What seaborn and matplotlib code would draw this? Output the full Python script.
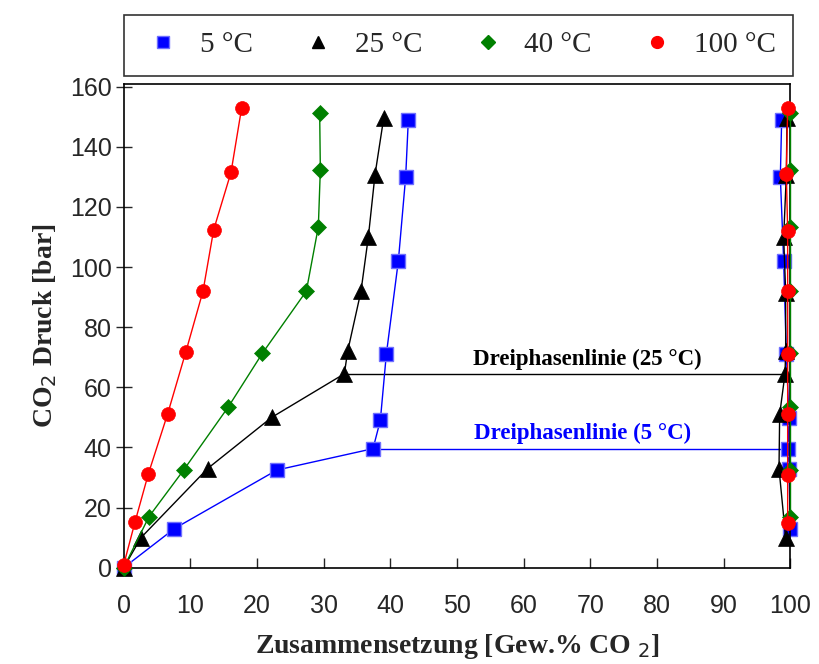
import numpy as np
import pandas as pd
import matplotlib
matplotlib.use("Agg")
import matplotlib.pyplot as plt
from matplotlib.lines import Line2D
import seaborn as sns

# liquid branch (left) and gas branch (right) per temperature
x5_liq = [0, 7.6, 23.0, 37.4, 38.5, 39.4, 41.2, 42.3, 42.7]
p5_liq = [0, 13, 32.5, 39.6, 49, 71, 102, 130, 149]
x5_gas = [100.0, 99.8, 99.7, 99.8, 99.4, 99.0, 98.5, 98.7]
p5_gas = [13, 32.7, 39.6, 49.7, 71, 102, 130, 149]

x25_liq = [0, 2.6, 12.6, 22.2, 33.1, 33.6, 35.6, 36.7, 37.7, 39.0]
p25_liq = [0, 10, 33, 50, 64.5, 72, 92, 110, 130.7, 149.5]
x25_gas = [99.3, 98.3, 98.4, 99.2, 99.3, 99.3, 99.0, 99.4, 99.5]
p25_gas = [10, 33, 51, 64.5, 72, 91.5, 110, 130.7, 149.5]

x40_liq = [0, 3.8, 9.0, 15.7, 20.8, 27.4, 29.2, 29.5, 29.4]
p40_liq = [0, 17, 32.5, 53.5, 71.3, 92, 113.4, 132.4, 151.3]
x40_gas = [100.0, 100.0, 100.0, 100.0, 100.0, 100.0, 100.0, 100.0]
p40_gas = [17, 32.5, 53.5, 71.3, 92, 113.4, 132.4, 151.3]

x100_liq = [0, 1.7, 3.7, 6.6, 9.3, 11.9, 13.5, 16.1, 17.7]
p100_liq = [0.9, 15.2, 31.2, 51.2, 71.6, 92, 112.4, 131.5, 153]
x100_gas = [99.6, 99.6, 99.6, 99.6, 99.6, 99.6, 99.4, 99.6]
p100_gas = [15, 31, 51, 71, 92, 112, 131, 153]

# three-phase lines: x start, x end, pressure
tp5 = [37.4, 100.0, 39.6]
tp25 = [33.1, 100.0, 64.5]

labels = ["5 °C", "25 °C", "40 °C", "100 °C"]
colors = ["#0000ff", "#000000", "#008000", "#ff0000"]
markers = ["s", "^", "D", "o"]
msizes = [10, 11, 8, 10]

series = [
    (x5_liq, p5_liq, x5_gas, p5_gas),
    (x25_liq, p25_liq, x25_gas, p25_gas),
    (x40_liq, p40_liq, x40_gas, p40_gas),
    (x100_liq, p100_liq, x100_gas, p100_gas),
]

sns.set_style("ticks")
serif = ["Liberation Serif", "DejaVu Serif"]
plt.rcParams["font.family"] = ["Liberation Sans", "DejaVu Sans"]

fig = plt.figure(figsize=(8.19, 6.64), dpi=100)
ax = fig.add_axes([0.151, 0.145, 0.814, 0.729])

# three-phase lines
ax.plot([tp25[0], tp25[1]], [tp25[2], tp25[2]], color="black", lw=1, zorder=1)
ax.plot([tp5[0], tp5[1]], [tp5[2], tp5[2]], color="#0000ff", lw=1, zorder=1)

for i, (xl, pl, xg, pg) in enumerate(series):
    for xs, ps in [(xl, pl), (xg, pg)]:
        d = pd.DataFrame({"x": xs, "p": ps})
        sns.lineplot(data=d, x="x", y="p", sort=False, estimator=None, ax=ax,
                     color=colors[i], lw=1, marker=markers[i], ms=msizes[i],
                     markeredgecolor="#6f6fff" if i == 0 else colors[i],
                     markeredgewidth=1 if i == 0 else 0.5,
                     clip_on=False, zorder=2 + i)

ax.text(69.6, 69.3, "Dreiphasenlinie (25 °C)", ha="center", va="center",
        fontsize=16.5, fontweight="bold", family=serif, color="black")
ax.text(68.9, 44.6, "Dreiphasenlinie (5 °C)", ha="center", va="center",
        fontsize=16.5, fontweight="bold", family=serif, color="#0000ff")

ax.set_xlim(0, 100)
ax.set_ylim(0, 161)
ax.set_xticks(np.arange(0, 101, 10))
ax.set_yticks(np.arange(0, 161, 20))
ax.tick_params(axis="x", direction="in", length=7, width=1, pad=19, labelsize=18)
ax.tick_params(axis="y", direction="inout", length=11, width=1, pad=3, labelsize=18)
for s in ax.spines.values():
    s.set_linewidth(1.2)
    s.set_color("black")

ax.set_xlabel("Zusammensetzung [Gew.% CO $_{2}$]", fontsize=20, fontweight="bold",
              family=serif, labelpad=10)
ax.set_ylabel("CO$_{2}$ Druck [bar]", fontsize=20, fontweight="bold",
              family=serif, labelpad=8)

handles = [Line2D([], [], ls="none", marker=markers[i], ms=msizes[i] * 0.85,
                  color=colors[i],
                  markeredgecolor="#6f6fff" if i == 0 else colors[i])
           for i in range(4)]
leg = fig.legend(handles, labels, loc="lower left", mode="expand", ncol=4,
                 bbox_to_anchor=(124 / 819, 1 - 76 / 664, 669 / 819, 60 / 664),
                 prop={"family": serif, "size": 21}, frameon=True, fancybox=False,
                 edgecolor="black", handletextpad=0.5, borderaxespad=0,
                 borderpad=0.6, handlelength=1.5)
leg.get_frame().set_linewidth(1.2)

fig.savefig("out.png", dpi=100)
